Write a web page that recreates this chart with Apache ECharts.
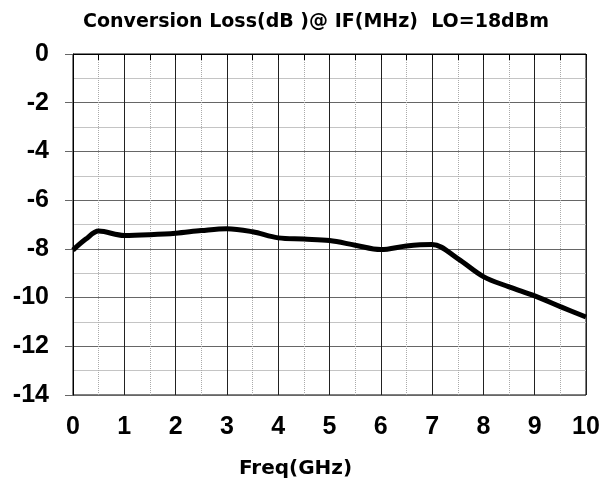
<!DOCTYPE html>
<html>
<head>
<meta charset="utf-8">
<script src="https://cdn.jsdelivr.net/npm/echarts@6/dist/echarts.min.js"></script>
<style>
  html, body { margin: 0; padding: 0; background: #fff; }
  #chart { width: 603px; height: 486px; }
</style>
</head>
<body>
<div id="chart"></div>
<script>
// values
const freq = [0, 0.25, 0.5, 1, 1.5, 2, 2.5, 3, 3.5, 4, 4.5, 5, 5.5, 6, 6.5, 7, 7.5, 8, 8.5, 9, 9.5, 10]
const loss = [-8.05, -7.6, -7.27, -7.45, -7.42, -7.36, -7.25, -7.17, -7.3, -7.55, -7.6, -7.66, -7.85, -8.03, -7.88, -7.82, -8.4, -9.14, -9.56, -9.93, -10.37, -10.8]

const chart = echarts.init(document.getElementById('chart'))

chart.setOption({
  animation: false,
  title: {
    text: 'Conversion Loss(dB )@ IF(MHz)  LO=18dBm',
    left: 311,
    top: 8,
    textAlign: 'center',
    textStyle: { fontFamily: 'DejaVu Sans', fontWeight: 'bold', fontSize: 19, color: '#000' }
  },
  grid: {
    left: 73,
    right: 17,
    top: 54,
    bottom: 91,
    show: true,
    borderColor: '#000',
    borderWidth: 1
  },
  xAxis: {
    type: 'value',
    min: 0,
    max: 10,
    interval: 1,
    name: 'Freq(GHz)',
    nameLocation: 'middle',
    nameGap: 64,
    nameTextStyle: { fontFamily: 'DejaVu Sans', fontWeight: 'bold', fontSize: 20, color: '#000', padding: [0, 68, 0, 0] },
    axisLine: { show: true, lineStyle: { color: '#000', width: 1 } },
    axisTick: { show: true, inside: false, length: 6, lineStyle: { color: '#000' } },
    minorTick: { show: true, splitNumber: 2, length: 6, lineStyle: { color: '#000' } },
    axisLabel: { margin: 20, fontFamily: 'Liberation Sans', fontWeight: 'bold', fontSize: 25, color: '#000' },
    splitLine: { show: true, lineStyle: { color: '#222', width: 1 } },
    minorSplitLine: { show: true, lineStyle: { color: '#aaa', type: 'dotted', width: 1 } }
  },
  yAxis: {
    type: 'value',
    min: -14,
    max: 0,
    interval: 2,
    axisLine: { show: true, lineStyle: { color: '#000', width: 1 } },
    axisTick: { show: true, inside: false, length: 8, lineStyle: { color: '#666' } },
    axisLabel: { margin: 24, fontFamily: 'Liberation Sans', fontWeight: 'bold', fontSize: 25, color: '#000' },
    splitLine: { show: true, lineStyle: { color: '#666', width: 1 } },
    minorTick: { show: false, splitNumber: 2 },
    minorSplitLine: { show: true, lineStyle: { color: '#c4c4c4', width: 1 } }
  },
  series: [
    {
      type: 'line',
      data: freq.map((f, i) => [f, loss[i]]),
      smooth: 0.35,
      showSymbol: false,
      lineStyle: { color: '#000', width: 5 }
    }
  ]
})
</script>
</body>
</html>
